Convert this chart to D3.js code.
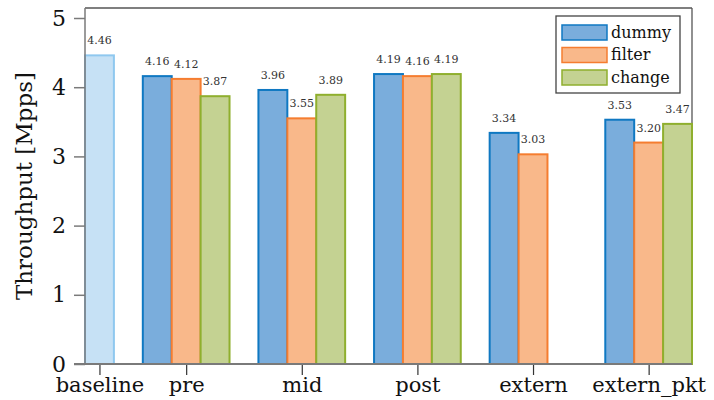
<!DOCTYPE html>
<html>
<head>
<meta charset="utf-8">
<script src="https://cdn.jsdelivr.net/npm/d3@7"></script>
<style>
  body { margin: 0; background: #fff; }
  svg text { fill: #111; }
</style>
</head>
<body>
<svg id="chart" width="714" height="400"></svg>
<script>
// ---- data ----
const categories = ["baseline", "pre", "mid", "post", "extern", "extern_pkt"];
const baselineValue = [4.46];
const seriesNames = ["dummy", "filter", "change"];
const dummy  = [null, 4.16, 3.96, 4.19, 3.34, 3.53];
const filter = [null, 4.12, 3.55, 4.16, 3.03, 3.20];
const change = [null, 3.87, 3.89, 4.19, null, 3.47];
const yTicks = [0, 1, 2, 3, 4, 5];

(function () {
// ---- styles ----
const fills   = { dummy: "#7aaddc", filter: "#f9b88a", change: "#c4d292", baseline: "#c6e1f5" };
const strokes = { dummy: "#0f78c2", filter: "#f57d30", change: "#8faf2e", baseline: "#8fc8ef" };
const FONT = "'DejaVu Serif', serif";

const svg = d3.select("#chart");
const pL = 85, pR = 692, pT = 8, pB = 364;
const barW = 0.25;           // bar width in group units
// group i centred at i; slots -1,0,+1; baseline uses slot +1 of group 0
const x = d3.scaleLinear().domain([barW - barW / 2, 5 + barW + barW / 2]).range([pL, pR]);
const y = d3.scaleLinear().domain([0, 5]).range([pB, 18]);

// frame (top / right)
svg.append("line").attr("x1", pL).attr("x2", pR).attr("y1", pT).attr("y2", pT)
  .attr("stroke", "#555").attr("stroke-width", 1.3);
svg.append("line").attr("x1", pR).attr("x2", pR).attr("y1", pT).attr("y2", pB)
  .attr("stroke", "#555").attr("stroke-width", 1.3);

// bars
const bars = [];
bars.push({ key: "baseline", cat: 0, slot: 1, v: baselineValue[0] });
const seriesData = { dummy, filter, change };
seriesNames.forEach((s, si) => {
  seriesData[s].forEach((v, ci) => {
    if (v !== null) bars.push({ key: s, cat: ci, slot: si - 1, v });
  });
});
const cx = d => d.cat + d.slot * barW;

svg.append("g").selectAll("rect").data(bars).join("rect")
  .attr("x", d => x(cx(d) - barW / 2))
  .attr("width", d => x(cx(d) + barW / 2) - x(cx(d) - barW / 2))
  .attr("y", d => y(d.v))
  .attr("height", d => y(0) - y(d.v))
  .attr("fill", d => fills[d.key])
  .attr("stroke", d => strokes[d.key])
  .attr("stroke-width", 2);

// value labels
svg.append("g").selectAll("text").data(bars).join("text")
  .attr("x", d => x(cx(d)))
  .attr("y", d => y(d.v) - 11)
  .attr("text-anchor", "middle")
  .style("font-family", FONT)
  .style("font-size", "11px")
  .style("fill", "#333")
  .text(d => d.v.toFixed(2));

// y axis
const yAxis = d3.axisLeft(y).tickValues(yTicks).tickSize(11).tickPadding(8).tickFormat(d3.format("d"));
const gy = svg.append("g").attr("transform", `translate(${pL},0)`).call(yAxis);
gy.select(".domain").remove();
gy.selectAll(".tick line").attr("stroke", "#7a7a7a").attr("stroke-width", 1.5);
gy.selectAll(".tick text").style("font-family", FONT).style("font-size", "22px").style("fill", "#111");
svg.append("line").attr("x1", pL).attr("x2", pL).attr("y1", pT).attr("y2", pB)
  .attr("stroke", "#7a7a7a").attr("stroke-width", 1.5);

// x axis
const tickPos = categories.map((c, i) => i === 0 ? barW : i);
const xAxis = d3.axisBottom(x).tickValues(tickPos).tickSize(11).tickPadding(5)
  .tickFormat((d, i) => categories[i]);
const gx = svg.append("g").attr("transform", `translate(0,${pB})`).call(xAxis);
gx.select(".domain").remove();
gx.selectAll(".tick line").attr("stroke", "#333").attr("stroke-width", 1.2);
gx.selectAll(".tick text").style("font-family", FONT).style("font-size", "21px")
  .attr("y", 28).attr("dy", 0).style("fill", "#111");
svg.append("line").attr("x1", pL - 11).attr("x2", pR).attr("y1", pB).attr("y2", pB)
  .attr("stroke", "#7a7a7a").attr("stroke-width", 2);

// y label
svg.append("text")
  .attr("transform", `translate(32,${(pT + pB) / 2}) rotate(-90)`)
  .attr("text-anchor", "middle")
  .style("font-family", FONT)
  .style("font-size", "23px")
  .text("Throughput [Mpps]");

// legend
const lg = svg.append("g").attr("transform", "translate(556,16)");
lg.append("rect").attr("width", 124).attr("height", 77)
  .attr("fill", "#fff").attr("stroke", "#444").attr("stroke-width", 1.3);
seriesNames.forEach((s, i) => {
  const row = lg.append("g").attr("transform", `translate(6,${9 + i * 22.5})`);
  row.append("rect").attr("width", 45).attr("height", 15)
    .attr("fill", fills[s]).attr("stroke", strokes[s]).attr("stroke-width", 1.5);
  row.append("text").attr("x", 49).attr("y", 12.5)
    .style("font-family", FONT).style("font-size", "16px").text(s);
});
})();
</script>
</body>
</html>
